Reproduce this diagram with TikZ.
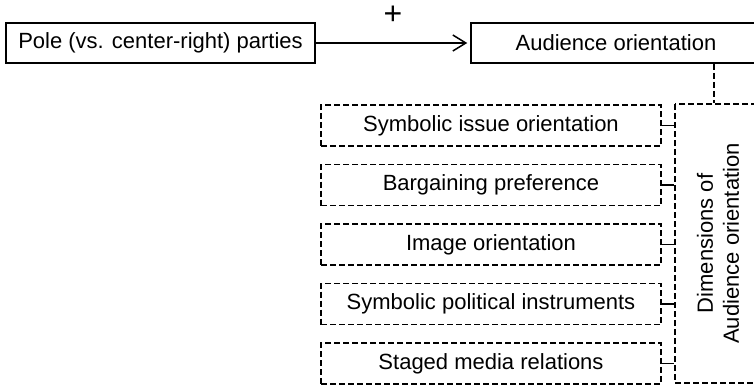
\documentclass[tikz,border=0pt]{standalone}
\usepackage{fontspec}
\setmainfont{Liberation Sans}
\usetikzlibrary{arrows.meta}

\begin{document}
\begin{tikzpicture}[x=0.5pt,y=-0.5pt,line width=0.75pt,
  >={Straight Barb[length=6.5pt,width=8pt]},
  box/.style={draw,inner sep=0pt,minimum height=20pt,font=\fontsize{11}{13}\selectfont},
  dimbox/.style={box,dash pattern=on 3pt off 1.5pt,minimum width=170pt,minimum height=20.5pt},
  link/.style={dash pattern=on 3pt off 1.5pt}]
  \useasboundingbox (0,0) rectangle (754,386);
  \clip (0,0) rectangle (754,386);
  \node[box,minimum width=154.5pt] (pole) at (160.5,43) {Pole (vs. center-right) parties};
  \node[box,minimum width=145pt] (aud) at (616,43) {Audience orientation};
  \node[dimbox] (symiss) at (491,125.5) {Symbolic issue orientation};
  \node[dimbox] (barg) at (491,185) {Bargaining preference};
  \node[dimbox] (image) at (491,244.5) {Image orientation};
  \node[dimbox] (sympol) at (491,304) {Symbolic political instruments};
  \node[dimbox] (staged) at (491,363.5) {Staged media relations};
  \node[dimbox,rotate=90,minimum width=139.5pt,minimum height=43pt,align=center]
    (dims) at (718,243.5) {Dimensions of\\Audience orientation};
  \draw[->,shorten >=1.5pt] (pole) -- (aud) node[midway,yshift=14pt,font=\fontsize{16}{16}\selectfont]{+};
  \draw[link] ([xshift=-2pt]aud.south -| dims.east) -- ([xshift=-2pt]dims.east);
  \draw (symiss.east) -- (symiss.east -| dims.north);
  \draw (barg.east) -- (barg.east -| dims.north);
  \draw (image.east) -- (image.east -| dims.north);
  \draw (sympol.east) -- (sympol.east -| dims.north);
  \draw (staged.east) -- (staged.east -| dims.north);
\end{tikzpicture}
\end{document}
